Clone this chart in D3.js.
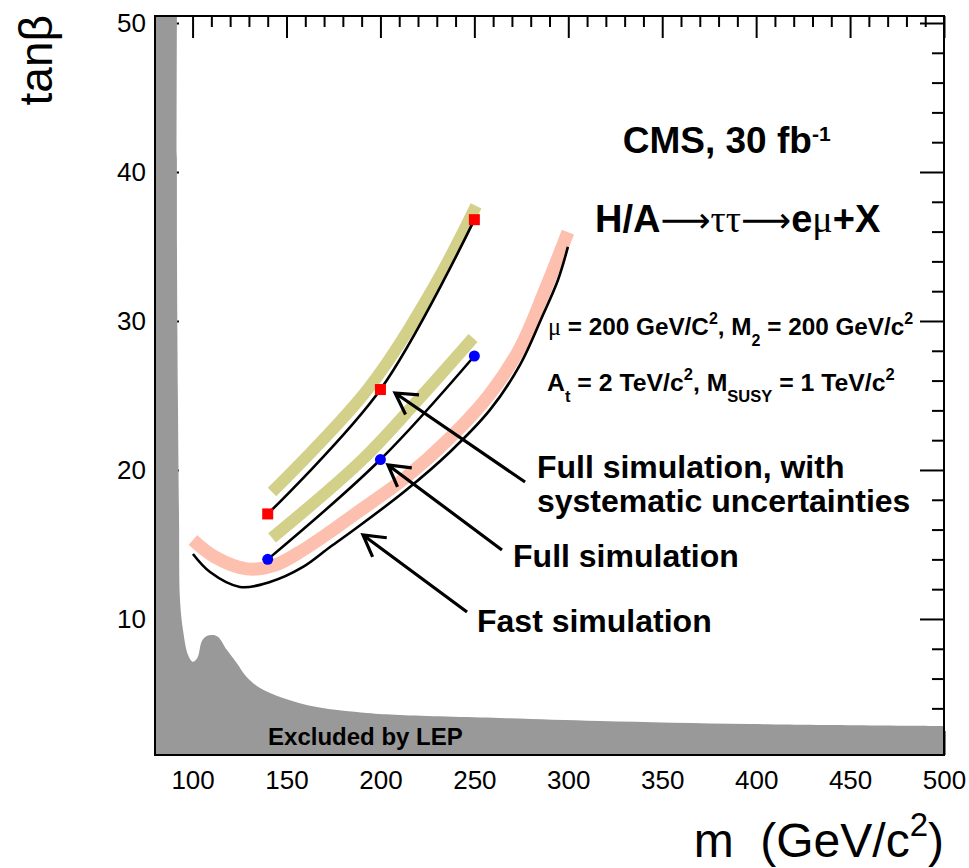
<!DOCTYPE html>
<html>
<head>
<meta charset="utf-8">
<script src="https://cdn.jsdelivr.net/npm/d3@7"></script>
<style>
  body { margin: 0; background: #fff; }
  svg { display: block; font-family: "Liberation Sans", Arial, Helvetica, sans-serif; }
</style>
</head>
<body>
<div id="chart"></div>
<script>
// tan(beta) reach for H/A -> tautau -> e mu + X, CMS 30 fb-1

const width = 969,
    height = 868,
    margin = ({ top: 16, right: 25, bottom: 113, left: 155 });

// LEP excluded region boundary
const lepMass = [91.7, 91.7, 92.2, 92.8, 93.3, 94.9, 97.6, 100.1, 102.6, 104.9, 107.5, 110.2, 113.5,
                 118.2, 123.5, 128.8, 135.9, 148.1, 166.1, 192.7, 210.4, 263.6, 316.9, 396.7, 500];
const lepTanb = [50.47, 34.8, 24.7, 16.6, 11.3, 9.26, 7.58, 7.13, 7.4, 8.5, 8.85, 8.93, 8.81,
                 7.93, 7.05, 6.11, 5.37, 4.70, 4.09, 3.69, 3.56, 3.36, 3.16, 2.95, 2.82];

// fast simulation contour + its shaded side
const fastMass = [100.2, 109.3, 125.2, 141.2, 158.8, 173.2, 186.5, 213.1, 237.0, 258.3, 274.3, 286.5, 294.5, 299.8];
const fastTanb = [14.36, 13.15, 12.15, 12.48, 13.49, 14.83, 16.04, 18.59, 21.21, 24.03, 27.05, 30.40, 32.75, 34.97];
const fastBandMass = [100.2, 111.9, 129.0, 143.9, 158.8, 173.2, 186.5, 213.1, 237.0, 258.3, 274.3, 287.6, 299.8];
const fastBandTanb = [15.30, 14.16, 13.36, 13.62, 14.63, 15.84, 17.05, 19.46, 22.15, 25.10, 28.19, 32.08, 35.97];

// full simulation points (blue) and with systematics (red)
const fullMass = [140, 200, 250];
const fullTanb = [14.0, 20.7, 27.65];
const systTanb = [17.05, 25.4, 36.8];
const fullBandMass = [142.3, 190.2, 220.0, 249.3];
const fullBandTanb = [15.44, 20.67, 24.70, 28.86];
const systBandMass = [142.3, 193.4, 229.0, 250.9];
const systBandTanb = [18.52, 25.44, 32.42, 37.72];

// arrows: tail -> tip, in (m, tanb)
const arrowTailM = [277.0, 264.7, 246.1];
const arrowTailT = [19.19, 14.63, 10.47];
const arrowTipM = [207.8, 204.0, 190.7];
const arrowTipT = [25.17, 20.34, 15.64];

const xMajor = [100, 150, 200, 250, 300, 350, 400, 450, 500];
const yMajor = [10, 20, 30, 40, 50];

const svg = d3.select("#chart")
    .append("svg")
    .attr("width", width)
    .attr("height", height);

const x = d3.scaleLinear()
    .domain([80, 500])
    .range([margin.left, width - margin.right]);

const y = d3.scaleLinear()
    .domain([0.87, 50.47])
    .range([height - margin.bottom, margin.top]);

const zip = (a, b) => a.map((v, i) => [v, b[i]]);
const xMinor = d3.range(80, 501, 10).filter(v => v % 50 !== 0);
const yMinor = d3.range(2, 51, 2).filter(v => v % 10 !== 0);

const noDomain = g => {
    g.select(".domain").remove();
    g.selectAll(".tick line").attr("stroke-width", 2);
};

// ticks on all four sides, pointing inward
svg.append("g")
    .attr("transform", `translate(0,${margin.top})`)
    .call(d3.axisTop(x).tickValues(xMajor).tickSize(-22).tickFormat(""))
    .call(noDomain);
svg.append("g")
    .attr("transform", `translate(0,${margin.top})`)
    .call(d3.axisTop(x).tickValues(xMinor).tickSize(-11).tickFormat(""))
    .call(noDomain);
svg.append("g")
    .attr("transform", `translate(${width - margin.right},0)`)
    .call(d3.axisRight(y).tickValues(yMajor).tickSize(-24).tickFormat(""))
    .call(noDomain);
svg.append("g")
    .attr("transform", `translate(${width - margin.right},0)`)
    .call(d3.axisRight(y).tickValues(yMinor).tickSize(-12).tickFormat(""))
    .call(noDomain);
svg.append("g")
    .attr("transform", `translate(0,${height - margin.bottom})`)
    .call(d3.axisBottom(x).tickValues(xMinor).tickSize(-11).tickFormat(""))
    .call(noDomain);
svg.append("g")
    .attr("transform", `translate(${margin.left},0)`)
    .call(d3.axisLeft(y).tickValues(yMinor).tickSize(-12).tickFormat(""))
    .call(noDomain);

const xAxis = svg.append("g")
    .attr("transform", `translate(0,${height - margin.bottom})`)
    .call(d3.axisBottom(x).tickValues(xMajor).tickSize(-24).tickPadding(16))
    .call(noDomain);
const yAxis = svg.append("g")
    .attr("transform", `translate(${margin.left},0)`)
    .call(d3.axisLeft(y).tickValues(yMajor).tickSize(-24).tickPadding(9))
    .call(noDomain);

[xAxis, yAxis].forEach(g => g.selectAll("text")
    .attr("font-size", 26)
    .attr("font-family", "'Liberation Sans', Arial, sans-serif")
    .attr("fill", "#000"));

const curve = d3.line()
    .x(d => x(d[0]))
    .y(d => y(d[1]))
    .curve(d3.curveCatmullRom.alpha(0.5));

// LEP excluded area covers the low ticks: smooth edge, then closed along the frame
svg.append("path")
    .attr("fill", "#999999")
    .attr("d", curve(zip(lepMass, lepTanb)) +
        `L${x(500)},${y(0.87)}L${x(80)},${y(0.87)}L${x(80)},${y(50.47)}Z`);

svg.append("rect")
    .attr("x", margin.left)
    .attr("y", margin.top)
    .attr("width", width - margin.left - margin.right)
    .attr("height", height - margin.top - margin.bottom)
    .attr("fill", "none")
    .attr("stroke", "#000")
    .attr("stroke-width", 2);

// shaded bands
svg.append("path").datum(zip(fastBandMass, fastBandTanb))
    .attr("d", curve).attr("fill", "none").attr("stroke", "#fdbfae").attr("stroke-width", 13);
svg.append("path").datum(zip(systBandMass, systBandTanb))
    .attr("d", curve).attr("fill", "none").attr("stroke", "#d3d08a").attr("stroke-width", 12);
svg.append("path").datum(zip(fullBandMass, fullBandTanb))
    .attr("d", curve).attr("fill", "none").attr("stroke", "#d3d08a").attr("stroke-width", 12);

// contour lines
[zip(fastMass, fastTanb), zip(fullMass, fullTanb), zip(fullMass, systTanb)].forEach(pts => {
    svg.append("path").datum(pts)
        .attr("d", curve)
        .attr("fill", "none")
        .attr("stroke", "#000")
        .attr("stroke-width", 2.6);
});

svg.append("g").selectAll("rect")
    .data(zip(fullMass, systTanb))
    .join("rect")
    .attr("x", d => x(d[0]) - 5.5)
    .attr("y", d => y(d[1]) - 5.5)
    .attr("width", 11)
    .attr("height", 11)
    .attr("fill", "#ff0000");

svg.append("g").selectAll("circle")
    .data(zip(fullMass, fullTanb))
    .join("circle")
    .attr("cx", d => x(d[0]))
    .attr("cy", d => y(d[1]))
    .attr("r", 5.5)
    .attr("fill", "#0000ff");

// arrows with open heads
arrowTailM.forEach((m, i) => {
    const x1 = x(m), y1 = y(arrowTailT[i]);
    const x2 = x(arrowTipM[i]), y2 = y(arrowTipT[i]);
    const a = Math.atan2(y1 - y2, x1 - x2), L = 24, h = 0.52;
    svg.append("path")
        .attr("d", `M${x1},${y1}L${x2},${y2}` +
            `M${x2 + L * Math.cos(a - h)},${y2 + L * Math.sin(a - h)}L${x2},${y2}` +
            `L${x2 + L * Math.cos(a + h)},${y2 + L * Math.sin(a + h)}`)
        .attr("fill", "none")
        .attr("stroke", "#000")
        .attr("stroke-width", 3.2);
});

// text with sup / sub / serif pieces
const serif = "'Liberation Serif', 'DejaVu Serif', serif";
function rich(parts, o) {
    const t = svg.append("text")
        .attr("x", o.x).attr("y", o.y)
        .attr("font-size", o.size)
        .attr("font-weight", o.weight || "bold")
        .attr("text-anchor", o.anchor || "start")
        .attr("fill", "#000")
        .style("white-space", "pre");
    let off = 0;
    parts.forEach(([s, kind]) => {
        const target = kind === "sup" ? -o.shift : kind === "sub" ? o.shift : 0;
        const ts = t.append("tspan").attr("dy", target - off).text(s);
        off = target;
        if (kind === "sup" || kind === "sub") ts.attr("font-size", o.small);
        if (kind === "serif") ts.attr("font-family", serif).attr("font-weight", "normal");
        if (kind === "arrow") ts.attr("font-family", "'DejaVu Sans', sans-serif")
            .attr("font-weight", "normal").attr("font-size", o.size * 0.92);
    });
    return t;
}

rich([["CMS, 30 fb"], ["-1", "sup"]],
    { x: x(329), y: y(41.28), size: 37, small: 21, shift: 12 });
rich([["H/A"], ["\u27f6", "arrow"], ["\u03c4\u03c4", "serif"], ["\u27f6", "arrow"], ["e"], ["\u03bc", "serif"], ["+X"]],
    { x: x(314.2), y: y(35.97), size: 38 });
rich([["\u03bc", "serif"], [" = 200 GeV/C"], ["2", "sup"], [", M"], ["2", "sub"], [" = 200 GeV/c"], ["2", "sup"]],
    { x: x(289.2), y: y(29.06), size: 24.3, small: 16, shift: 11 });
rich([["A"], ["t", "sub"], [" = 2 TeV/c"], ["2", "sup"], [", M"], ["SUSY", "sub"], [" = 1 TeV/c"], ["2", "sup"]],
    { x: x(288.7), y: y(25.3), size: 24.8, small: 16.5, shift: 11 });

rich([["Full simulation, with"]], { x: x(283.3), y: y(19.46), size: 32 });
rich([["systematic uncertainties"]], { x: x(283.3), y: y(17.18), size: 32 });
rich([["Full simulation"]], { x: x(270.6), y: y(13.49), size: 32 });
rich([["Fast simulation"]], { x: x(251.4), y: y(9.13), size: 32 });
rich([["Excluded by LEP"]], { x: x(140.2), y: y(1.54), size: 24 });

// axis titles
rich([["m  (GeV/c"], ["2", "sup"], [")"]],
    { x: width - margin.right, y: 857, size: 48, small: 33, shift: 21, weight: "normal", anchor: "end" });

svg.append("text")
    .attr("transform", "translate(52,15) rotate(-90)")
    .attr("text-anchor", "end")
    .attr("font-size", 46)
    .text("tan\u03b2");
</script>
</body>
</html>
